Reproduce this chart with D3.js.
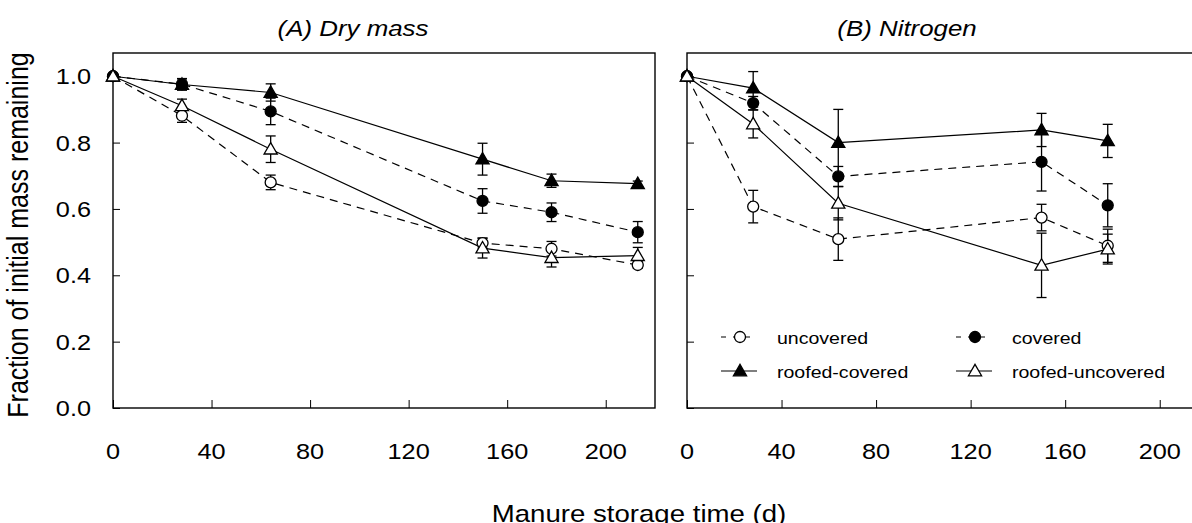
<!DOCTYPE html>
<html>
<head>
  <meta charset="UTF-8">
  <title>Manure storage</title>
  <style>
    body { margin: 0; background: #fff; }
    svg { display: block; font-family: "Liberation Sans", Arial, sans-serif; }
  </style>
</head>
<body>
<svg></svg>
<script src="https://d3js.org/d3.v7.min.js"></script>
<script>

let width = 1192, height = 523;

// sampling days
const daysA = [0, 28, 64, 150, 178, 213];
const daysB = [0, 28, 64, 150, 178];

// (A) dry mass, fraction remaining + error
const dmUncovered = [1.0, 0.881, 0.680, 0.497, 0.480, 0.431];
const dmUncoveredErr = [0, 0.020, 0.022, 0.015, 0.022, 0.010];
const dmCovered = [1.0, 0.976, 0.894, 0.624, 0.590, 0.530];
const dmCoveredErr = [0, 0.017, 0.040, 0.037, 0.028, 0.032];
const dmRoofedCovered = [1.0, 0.975, 0.951, 0.750, 0.685, 0.676];
const dmRoofedCoveredErr = [0, 0.017, 0.026, 0.048, 0.020, 0.008];
const dmRoofedUncovered = [1.0, 0.911, 0.780, 0.482, 0.453, 0.459];
const dmRoofedUncoveredErr = [0, 0.020, 0.040, 0.030, 0.028, 0.025];

// (B) nitrogen
const nUncovered = [1.0, 0.607, 0.509, 0.574, 0.489];
const nUncoveredErr = [0, 0.049, 0.064, 0.040, 0.050];
const nCovered = [1.0, 0.919, 0.698, 0.742, 0.611];
const nCoveredErr = [0, 0.020, 0.030, 0.088, 0.065];
const nRoofedCovered = [1.0, 0.964, 0.800, 0.838, 0.805];
const nRoofedCoveredErr = [0, 0.050, 0.100, 0.050, 0.050];
const nRoofedUncovered = [1.0, 0.856, 0.617, 0.430, 0.479];
const nRoofedUncoveredErr = [0, 0.042, 0.050, 0.097, 0.045];

const xTicks = [0, 40, 80, 120, 160, 200];
const yTicks = [0, 0.2, 0.4, 0.6, 0.8, 1.0];

// series styles: dashed/solid line, circle/triangle, filled/open
const seriesInfo = [
  {name: "uncovered", dash: true, shape: "circle", fill: "#fff"},
  {name: "covered", dash: true, shape: "circle", fill: "#000"},
  {name: "roofed-covered", dash: false, shape: "triangle", fill: "#000"},
  {name: "roofed-uncovered", dash: false, shape: "triangle", fill: "#fff"}
];

const panels = [
  {title: "(A) Dry mass", titleX: 353, left: 113, right: 655, days: daysA, labels: true,
   vals: [dmUncovered, dmCovered, dmRoofedCovered, dmRoofedUncovered],
   errs: [dmUncoveredErr, dmCoveredErr, dmRoofedCoveredErr, dmRoofedUncoveredErr]},
  {title: "(B) Nitrogen", titleX: 907, left: 687, right: 1207, days: daysB, labels: false,
   vals: [nUncovered, nCovered, nRoofedCovered, nRoofedUncovered],
   errs: [nUncoveredErr, nCoveredErr, nRoofedCoveredErr, nRoofedUncoveredErr]}
];

// the source figure is a bit stretched sideways, so text is too
const sx = 1.15;

let svg = d3.select("svg")
    .attr("width", width)
    .attr("height", height);

let y = d3.scaleLinear().domain([0, 1.07]).range([408, 53]);

function addText(g, x, yy, str, size, anchor) {
  return g.append("text")
    .attr("transform", "translate(" + x + "," + yy + ") scale(" + sx + ",1)")
    .attr("text-anchor", anchor)
    .attr("font-size", size)
    .text(str);
}

function drawMarker(g, shape, fill, cx, cy) {
  if (shape == "circle") {
    g.append("circle").attr("cx", cx).attr("cy", cy).attr("r", 5.5)
      .attr("fill", fill).attr("stroke", "#000").attr("stroke-width", 1.3);
  } else {
    let s = d3.symbol().type(d3.symbolTriangle).size(75);
    g.append("path").attr("d", s())
      .attr("transform", "translate(" + cx + "," + (cy + 1) + ")")
      .attr("fill", fill).attr("stroke", "#000").attr("stroke-width", 1.3);
  }
}

panels.forEach(p => {
  let x = d3.scaleLinear().domain([0, 220]).range([p.left, p.right]);
  let g = svg.append("g");

  // frame
  g.append("rect")
    .attr("x", p.left).attr("y", y.range()[1])
    .attr("width", p.right - p.left).attr("height", y.range()[0] - y.range()[1])
    .attr("fill", "none").attr("stroke", "#000").attr("stroke-width", 1.4);

  // inward ticks
  g.append("g")
    .attr("transform", "translate(" + p.left + ",0)")
    .call(d3.axisRight(y).tickValues(yTicks).tickSize(7).tickFormat(""))
    .call(a => a.select(".domain").remove());
  g.append("g")
    .attr("transform", "translate(0,408)")
    .call(d3.axisTop(x).tickValues(xTicks).tickSize(8).tickFormat(""))
    .call(a => a.select(".domain").remove());

  // tick labels
  xTicks.forEach(d => addText(g, x(d), 459, d, 22, "middle"));
  if (p.labels) {
    yTicks.forEach(d => addText(g, 91, y(d) + 8, d3.format(".1f")(d), 22, "end"));
  }

  // title
  addText(g, p.titleX, 36, p.title, 22.5, "middle").attr("font-style", "italic");

  let line = d3.line().x(d => x(d[0])).y(d => y(d[1]));

  // lines
  seriesInfo.forEach((s, i) => {
    let pts = p.days.map((t, j) => [t, p.vals[i][j]]);
    g.append("path").attr("d", line(pts))
      .attr("fill", "none").attr("stroke", "#000").attr("stroke-width", 1.2)
      .attr("stroke-dasharray", s.dash ? "8,6" : null);
  });

  // error bars
  seriesInfo.forEach((s, i) => {
    p.days.forEach((t, j) => {
      let e = p.errs[i][j];
      if (e <= 0) return;
      let v = p.vals[i][j], cx = x(t);
      g.append("line").attr("x1", cx).attr("x2", cx)
        .attr("y1", y(v - e)).attr("y2", y(v + e))
        .attr("stroke", "#000").attr("stroke-width", 1.3);
      [v - e, v + e].forEach(c => {
        g.append("line").attr("x1", cx - 5).attr("x2", cx + 5)
          .attr("y1", y(c)).attr("y2", y(c))
          .attr("stroke", "#000").attr("stroke-width", 1.3);
      });
    });
  });

  // markers
  seriesInfo.forEach((s, i) => {
    p.days.forEach((t, j) => drawMarker(g, s.shape, s.fill, x(t), y(p.vals[i][j])));
  });
});

// legend inside panel B
const legendPos = [[721, 337], [956, 337], [721, 371], [956, 371]];
seriesInfo.forEach((s, i) => {
  let lx = legendPos[i][0], ly = legendPos[i][1];
  let lg = svg.append("g");
  lg.append("line").attr("x1", lx).attr("x2", lx + 36)
    .attr("y1", ly).attr("y2", ly)
    .attr("stroke", "#000").attr("stroke-width", 1.2)
    .attr("stroke-dasharray", s.dash ? "5,7" : null);
  drawMarker(lg, s.shape, s.fill, lx + 19, ly);
  addText(lg, lx + 56, ly + 7, s.name, 17, "start");
});

// axis titles
svg.append("text")
  .attr("transform", "translate(28,235) scale(" + sx + ",1) rotate(-90)")
  .attr("text-anchor", "middle").attr("font-size", 25)
  .text("Fraction of initial mass remaining");
addText(svg, 639, 522, "Manure storage time (d)", 24, "middle");

</script>
</body>
</html>
